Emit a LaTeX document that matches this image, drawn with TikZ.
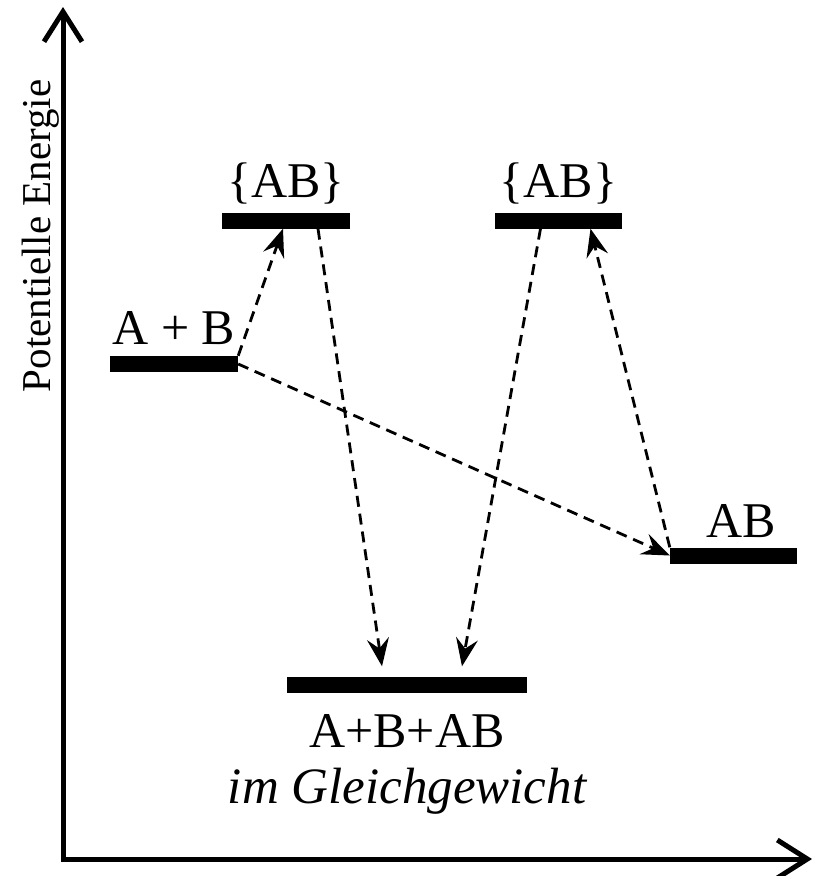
\documentclass[tikz,border=0pt]{standalone}
\usepackage{fontspec}
\setmainfont{Liberation Serif}
\usetikzlibrary{positioning,arrows.meta}

\begin{document}
\begin{tikzpicture}[x=1pt,y=-1pt,
		niveau/.style={fill=black,inner sep=0pt,minimum height=16pt},
		beschr/.style={inner sep=0pt,text depth=0pt,font=\fontsize{50}{60}\selectfont},
		pfeil/.style={line width=2.8pt,dash pattern=on 11pt off 7pt,-{Stealth[length=28pt,width=22pt,inset=10pt]}}]
		\useasboundingbox (0,0) rectangle (814,876);
		
		% Achsen
		\coordinate (O) at (63,859);
		\coordinate (ytop) at (63,7);
		\coordinate (xend) at (812,859);
		\draw[line width=5pt,line join=miter,{Straight Barb[length=30pt,width=38pt]}-{Straight Barb[length=30pt,width=38pt]}] (ytop) -- (O) -- (xend);
		\node[rotate=90,anchor=base,inner sep=0pt,font=\fontsize{41}{48}\selectfont] (ylab) at (50,236) {Potentielle Energie};
		
		% Energieniveaus
		\node[niveau,minimum width=128pt] (apb) at (174,364) {};
		\node[niveau,minimum width=128pt] (ts1) at (286,220.5) {};
		\node[niveau,minimum width=127pt] (ts2) at (558.5,220.5) {};
		\node[niveau,minimum width=127pt] (ab) at (733.5,555.5) {};
		\node[niveau,minimum width=240pt] (eq) at (407,684.5) {};
		
		% Beschriftungen
		\node[beschr,above=11pt of apb] (apblab) {A + B};
		\node[beschr,above=15pt of ts1] (ts1lab) {\{AB\}};
		\node[beschr,above=15pt of ts2] (ts2lab) {\{AB\}};
		\node[beschr,above=10pt of ab,xshift=8pt] (ablab) {AB};
		\node[beschr,below=22pt of eq] (eqlab) {A+B+AB};
		\node[beschr,below=20pt of eqlab,font=\fontsize{51}{60}\selectfont\itshape] (gglab) {im Gleichgewicht};
		
		% Übergänge
		\draw[pfeil] (apb.north east) -- ([xshift=-3pt]ts1.south);
		\draw[pfeil] (apb.east) -- (ab.west);
		\draw[pfeil] ([xshift=32pt]ts1.south) -- ([xshift=-25pt,yshift=10pt]eq.north);
		\draw[pfeil] ([xshift=-18pt]ts2.south) -- ([xshift=55pt,yshift=10pt]eq.north);
		\draw[pfeil] (ab.north west) -- ([xshift=32pt]ts2.south);
	\end{tikzpicture}
\end{document}
